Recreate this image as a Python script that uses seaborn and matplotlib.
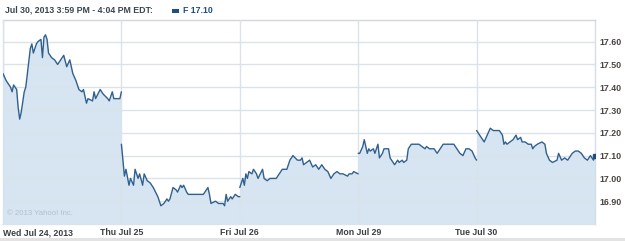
import matplotlib
matplotlib.use("Agg")
import matplotlib.pyplot as plt
import matplotlib.transforms as mtransforms
import seaborn as sns
import pandas as pd
from matplotlib.patches import Rectangle

# ---- data (minutes after 9:30 open, price) ----
day_labels = ["Wed Jul 24, 2013", "Thu Jul 25", "Fri Jul 26", "Mon Jul 29", "Tue Jul 30"]

d1_min = [0, 10, 25, 30, 35, 45, 50, 55, 60, 70, 75, 90, 95, 100, 110, 115, 125, 130, 135, 140, 145, 150,
          160, 170, 180, 190, 200, 210, 220, 230, 240, 250, 260, 265, 275, 280, 295, 300, 305, 320,
          330, 345, 350, 360, 365, 375, 385, 390]
d1_px = [17.46, 17.43, 17.40, 17.38, 17.41, 17.39, 17.31, 17.26, 17.29, 17.38, 17.40, 17.57, 17.59, 17.55, 17.59,
         17.60, 17.61, 17.53, 17.62, 17.63, 17.61, 17.55, 17.53, 17.52, 17.50, 17.52, 17.54, 17.49,
         17.52, 17.46, 17.43, 17.39, 17.38, 17.39, 17.33, 17.35, 17.34, 17.38, 17.35, 17.39, 17.37,
         17.35, 17.34, 17.38, 17.35, 17.35, 17.35, 17.38]

d2_min = [0, 10, 15, 25, 30, 40, 45, 55, 60, 70, 75, 85, 95, 105, 120, 130, 140, 150, 155, 160, 170,
          180, 185, 195, 200, 205, 215, 220, 235, 240, 255, 270, 275, 285, 290, 295, 310, 320, 335,
          340, 345, 350, 360, 365, 375, 385, 390]
d2_px = [17.15, 17.01, 17.04, 16.97, 17.00, 16.97, 17.04, 17.00, 17.02, 16.97, 17.02, 16.99, 16.98,
         16.96, 16.92, 16.88, 16.89, 16.91, 16.90, 16.91, 16.96, 16.95, 16.94, 16.97, 16.96, 16.97,
         16.94, 16.93, 16.93, 16.93, 16.93, 16.93, 16.94, 16.96, 16.93, 16.89, 16.90, 16.89, 16.89,
         16.88, 16.93, 16.90, 16.92, 16.91, 16.93, 16.92, 16.92]

d3_min = [0, 10, 15, 20, 25, 30, 40, 45, 55, 60, 75, 80, 90, 100, 110, 120, 130, 140, 155, 165, 175,
          190, 200, 205, 210, 220, 230, 240, 250, 260, 270, 280, 290, 300, 310, 320, 330, 340, 355,
          360, 370, 375, 390]
d3_px = [16.96, 17.00, 16.97, 17.02, 17.00, 17.03, 17.02, 17.04, 17.02, 17.00, 17.04, 17.00, 16.99,
         17.00, 17.00, 17.00, 17.02, 17.04, 17.04, 17.08, 17.10, 17.08, 17.08, 17.09, 17.06, 17.07,
         17.08, 17.05, 17.06, 17.04, 17.06, 17.04, 17.03, 17.00, 17.02, 17.03, 17.02, 17.02, 17.01,
         17.02, 17.02, 17.03, 17.02]

d4_min = [0, 5, 15, 20, 30, 35, 40, 50, 55, 65, 70, 80, 85, 100, 105, 120, 130, 135, 145, 150, 160,
          165, 175, 185, 200, 210, 220, 225, 235, 250, 260, 270, 280, 290, 300, 315, 325, 335, 345,
          355, 365, 375, 385, 390]
d4_px = [17.11, 17.11, 17.14, 17.17, 17.11, 17.13, 17.12, 17.13, 17.11, 17.15, 17.09, 17.11, 17.13,
         17.13, 17.09, 17.06, 17.08, 17.07, 17.08, 17.07, 17.08, 17.13, 17.15, 17.15, 17.15, 17.14,
         17.13, 17.14, 17.13, 17.13, 17.11, 17.13, 17.15, 17.15, 17.15, 17.15, 17.13, 17.11, 17.10,
         17.13, 17.13, 17.12, 17.09, 17.08]

d5_min = [0, 10, 20, 25, 35, 45, 55, 65, 75, 85, 90, 95, 100, 110, 120, 130, 135, 145, 150, 160, 170,
          180, 185, 190, 200, 215, 225, 230, 240, 250, 265, 270, 280, 290, 300, 315, 325, 335, 345,
          355, 365, 375, 385, 390]
d5_px = [17.21, 17.19, 17.17, 17.16, 17.19, 17.22, 17.21, 17.21, 17.21, 17.19, 17.15, 17.16, 17.15,
         17.16, 17.17, 17.19, 17.17, 17.18, 17.16, 17.16, 17.15, 17.15, 17.13, 17.14, 17.15, 17.16,
         17.15, 17.11, 17.08, 17.07, 17.08, 17.11, 17.08, 17.09, 17.08, 17.11, 17.12, 17.12, 17.11,
         17.09, 17.08, 17.10, 17.08, 17.10]

y_ticks = [16.90, 17.00, 17.10, 17.20, 17.30, 17.40, 17.50, 17.60]
title_text = "Jul 30, 2013 3:59 PM - 4:04 PM EDT:"
legend_text = "F 17.10"
copyright_text = "\u00a9 2013 Yahoo! Inc."

SESSION = 390
days_min = [d1_min, d2_min, d3_min, d4_min, d5_min]
days_px = [d1_px, d2_px, d3_px, d4_px, d5_px]

rows = []
for i, (mins, pxs) in enumerate(zip(days_min, days_px)):
    for m, p in zip(mins, pxs):
        rows.append({"day": i, "x": i * SESSION + m, "price": p})
df = pd.DataFrame(rows)

# ---- styling ----
sns.set_style("white")
plt.rcParams["font.family"] = ["Liberation Sans", "DejaVu Sans"]

LINE = "#30608f"
FILL = "#d6e5f1"
GRID = "#dae3ea"
TXT = "#3a3f44"

fig = plt.figure(figsize=(6.25, 2.41), dpi=100)
ax = fig.add_axes([3 / 625, 1 - 224 / 241, 592 / 625, 204 / 241])

YMIN, YMAX = 16.80, 17.695
for i in range(len(days_min)):
    sub = df[df["day"] == i]
    ax.fill_between(sub["x"], sub["price"], YMIN, color=FILL, lw=0, zorder=1)

sns.lineplot(data=df, x="x", y="price", units="day", estimator=None, color=LINE,
             lw=1.0, ax=ax, zorder=3, legend=False)
last = df.iloc[-1]
ax.plot([last["x"]], [last["price"]], marker="s", ms=2.5, color="#1f4e82", zorder=4)

ax.set_xlim(0, SESSION * len(days_min))
ax.set_ylim(YMIN, YMAX)
ax.set_xlabel("")
ax.set_ylabel("")

ax.set_xticks([i * SESSION for i in range(len(day_labels))])
ax.set_xticklabels(day_labels, fontsize=6.3, fontweight="bold", color=TXT)
first = ax.get_xticklabels()[0]
first.set_ha("left")
first.set_transform(first.get_transform() +
                    mtransforms.ScaledTranslation(2 / 100, 0, fig.dpi_scale_trans))
ax.set_yticks(y_ticks)
ax.set_yticklabels([f"{v:.2f}" for v in y_ticks], fontsize=6.4, fontweight="bold", color="#4a4540")
ax.yaxis.tick_right()
ax.tick_params(axis="both", length=0)
ax.tick_params(axis="x", pad=3)
ax.tick_params(axis="y", pad=3)

ax.set_axisbelow(False)
ax.grid(True, color=GRID, lw=1.0)
for gl in ax.get_xgridlines() + ax.get_ygridlines():
    gl.set_zorder(2)

for side in ["left", "right"]:
    ax.spines[side].set_color("#d3dde6")
    ax.spines[side].set_linewidth(1.0)
ax.spines["top"].set_color("#d6d6d6")
ax.spines["top"].set_linewidth(1.0)
ax.spines["bottom"].set_color(GRID)
ax.spines["bottom"].set_linewidth(1.0)

ax.text(0.007, 0.035, copyright_text, transform=ax.transAxes, fontsize=5.6,
        color="#b3c0cc", ha="left", va="bottom", zorder=5)

fig.text(5 / 625, 1 - 10.5 / 241, title_text, fontsize=6.3, fontweight="bold",
         color="#3a4550", ha="left", va="center")
fig.add_artist(Rectangle((172 / 625, 1 - 12.5 / 241), 7 / 625, 3.5 / 241,
                         transform=fig.transFigure, color="#1f4e82", lw=0))
fig.text(183 / 625, 1 - 10.5 / 241, legend_text, fontsize=6.3, fontweight="bold",
         color="#1f4e82", ha="left", va="center")

fig.add_artist(Rectangle((0, 0), 1, 3.5 / 241, transform=fig.transFigure,
                         color="#e3e3e3", lw=0))

fig.savefig("out.png", dpi=100)
